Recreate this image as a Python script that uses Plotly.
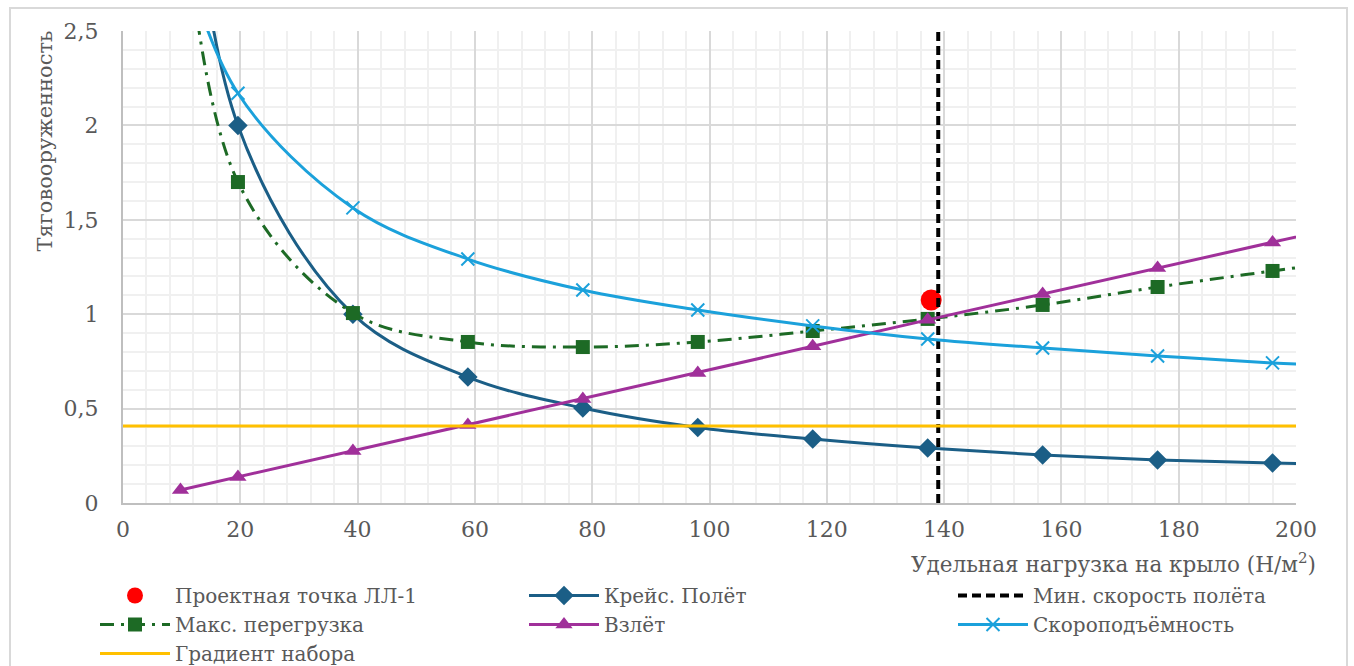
import plotly.graph_objects as go

# ---- data ----
x_pts = [9.8, 19.6, 39.2, 58.8, 78.4, 98.0, 117.6, 137.2, 156.8, 176.4, 196.0, 215.6]
cruise = [4.00, 2.00, 1.00, 0.667, 0.503, 0.400, 0.339, 0.291, 0.254, 0.228, 0.212, 0.196]
max_load = [3.37, 1.70, 1.006, 0.853, 0.826, 0.853, 0.911, 0.975, 1.049, 1.144, 1.229, 1.31]
takeoff = [0.069, 0.138, 0.275, 0.413, 0.551, 0.689, 0.830, 0.970, 1.107, 1.245, 1.380, 1.518]
climb_rate = [2.95, 2.17, 1.563, 1.292, 1.128, 1.022, 0.938, 0.869, 0.821, 0.779, 0.742, 0.715]
gradient_x = [0, 200]
gradient_y = [0.408, 0.408]
min_speed_x = [139, 139]
min_speed_y = [0, 2.5]
design_x = [137.8]
design_y = [1.075]

x_ticks = [0, 20, 40, 60, 80, 100, 120, 140, 160, 180, 200]
x_ticktext = ["0", "20", "40", "60", "80", "100", "120", "140", "160", "180", "200"]
y_ticks = [0, 0.5, 1, 1.5, 2, 2.5]
y_ticktext = ["0", "0,5", "1", "1,5", "2", "2,5"]

FONT = "DejaVu Serif"
GREY = "#595959"

fig = go.Figure()

fig.add_trace(go.Scatter(x=design_x, y=design_y, mode="markers", name="Проектная точка ЛЛ-1",
                         marker=dict(symbol="circle", size=21, color="#ff0000"), legendrank=1))
fig.add_trace(go.Scatter(x=x_pts, y=cruise, mode="lines+markers", name="Крейс. Полёт",
                         line=dict(color="#1b5e86", width=3, shape="spline"),
                         marker=dict(symbol="diamond", size=15, color="#1b5e86"), legendrank=2))
fig.add_trace(go.Scatter(x=min_speed_x, y=min_speed_y, mode="lines", name="Мин. скорость полёта",
                         line=dict(color="#000000", width=4, dash="9px,5px"), legendrank=3))
fig.add_trace(go.Scatter(x=x_pts, y=max_load, mode="lines+markers", name="Макс. перегрузка",
                         line=dict(color="#1d6a25", width=3, shape="spline", dash="14px,7px,3px,7px"),
                         marker=dict(symbol="square", size=14, color="#1d6a25"), legendrank=4))
fig.add_trace(go.Scatter(x=x_pts, y=takeoff, mode="lines+markers", name="Взлёт",
                         line=dict(color="#a0309a", width=3),
                         marker=dict(symbol="triangle-up", size=15, color="#a0309a"), legendrank=5))
fig.add_trace(go.Scatter(x=x_pts, y=climb_rate, mode="lines+markers", name="Скороподъёмность",
                         line=dict(color="#1ba1db", width=3, shape="spline"),
                         marker=dict(symbol="x-thin", size=13, color="#1ba1db",
                                     line=dict(color="#1ba1db", width=2)), legendrank=6))
fig.add_trace(go.Scatter(x=gradient_x, y=gradient_y, mode="lines", name="Градиент набора",
                         line=dict(color="#ffc000", width=3), legendrank=7))

L, R, T, B = 123, 58, 31, 163
W, H = 1354, 666
pw, ph = W - L - R, H - T - B

def px_x(p):
    return (p - L) / pw

def px_y(p):
    return (H - B - p) / ph

fig.update_layout(
    width=W, height=H,
    margin=dict(l=L, r=R, t=T, b=B, autoexpand=False),
    paper_bgcolor="white", plot_bgcolor="white",
    font=dict(family=FONT, color=GREY, size=20),
    showlegend=True,
    legend=dict(orientation="h", x=px_x(95), y=px_y(576), xanchor="left", yanchor="top",
                font=dict(family=FONT, size=20, color=GREY), itemwidth=70,
                entrywidth=344, entrywidthmode="pixels", bgcolor="rgba(0,0,0,0)",
                traceorder="normal", tracegroupgap=0),
    xaxis=dict(range=[0, 200], tickvals=x_ticks, ticktext=x_ticktext,
               showgrid=True, gridcolor="#d9d9d9", gridwidth=1.5,
               minor=dict(dtick=4, showgrid=True, gridcolor="#f0f0f0", gridwidth=1.5),
               showline=True, linecolor="#bfbfbf", linewidth=2, zeroline=False,
               ticks="", tickfont=dict(size=22, color=GREY, family=FONT),
               ticklabelstandoff=6),
    yaxis=dict(range=[0, 2.5], tickvals=y_ticks, ticktext=y_ticktext,
               showgrid=True, gridcolor="#d9d9d9", gridwidth=1.5,
               minor=dict(dtick=0.1, showgrid=True, gridcolor="#f0f0f0", gridwidth=1.5),
               showline=True, linecolor="#bfbfbf", linewidth=2, zeroline=False,
               ticks="", tickfont=dict(size=22, color=GREY, family=FONT),
               ticklabelstandoff=18),
    annotations=[
        dict(text="Тяговооруженность", textangle=-90, xref="paper", yref="paper",
             x=px_x(45), y=px_y(28), xanchor="center", yanchor="top", showarrow=False,
             font=dict(family=FONT, size=21, color=GREY)),
        dict(text="Удельная нагрузка на крыло (Н/м<sup>2</sup>)", xref="paper", yref="paper",
             x=px_x(1318), y=px_y(563), xanchor="right", yanchor="middle", showarrow=False,
             font=dict(family=FONT, size=21.5, color=GREY)),
    ],
    shapes=[
        dict(type="rect", xref="paper", yref="paper", x0=px_x(10), x1=px_x(1347),
             y0=px_y(700), y1=px_y(8), line=dict(color="#d9d9d9", width=2),
             fillcolor="rgba(0,0,0,0)", layer="below"),
    ],
)

fig.write_html("out.html")
